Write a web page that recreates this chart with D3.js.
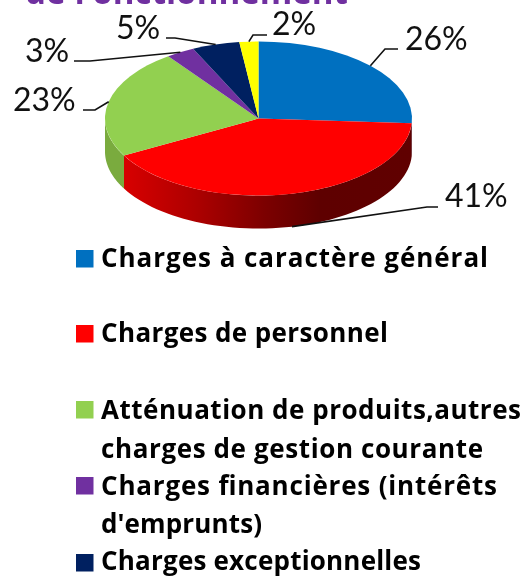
<!DOCTYPE html>
<html lang="fr">
<head>
    <meta charset="UTF-8">
    <title>Charges de fonctionnement</title>
    <style>
        body { margin: 0; background: #fff; overflow: hidden; }
        svg { display: block; filter: blur(0.4px); }
        .legend text { font-family: "Open Sans", sans-serif; font-weight: 700; font-size: 26px; fill: #000; }
        .pct { font-family: Lato, sans-serif; font-size: 32px; fill: #111; }
        .title { font-family: "Open Sans", sans-serif; font-weight: 700; font-size: 36px; fill: #7030a0; }
    </style>
</head>
<body>
    <svg id="chart" width="526" height="577"></svg>
    <script src="https://d3js.org/d3.v7.min.js"></script>
    <script>
        const titleText = "de Fonctionnement";
        // the sixth (yellow) slice has no legend entry in view, the picture cuts off below the fifth
        const categories = [
            ["Charges à caractère général"],
            ["Charges de personnel"],
            ["Atténuation de produits,autres", "charges de gestion courante"],
            ["Charges financières (intérêts", "d'emprunts)"],
            ["Charges exceptionnelles"]
        ];
        const values = [26, 41, 23, 3, 5, 2];
        const colors = ["#0070c0", "#ff0000", "#92d050", "#7030a0", "#002060", "#ffff00"];
        const wallColors = ["#00508a", "url(#redWall)", "#7aab3e", "#50207a", "#001540", "#b0b000"];

        // layout
        const cx = 258.5, cy = 118.5, rx = 153.5, ry = 77, depth = 33;
        const labelPos = [[405, 50], [445, 207], [13, 111], [25, 62], [116, 39], [272, 35]];
        const elbows = [[[385, 49], [398, 49]], [[427, 207], [438, 207]], [[95, 110], [83, 110]],
                        [[90, 61], [74, 61]], [[175, 38], [166, 38]], [[253, 35], [267, 35]]];
        const legendY = [250, 325, 401, 477, 554];
        const lineBase = [[267], [342], [419, 458], [495, 533], [570]];
        const lineWidth = [[387], [287], [420, 382], [396, 161], [320]];

        const svg = d3.select("#chart");

        const defs = svg.append("defs");
        const grad = defs.append("linearGradient").attr("id", "redWall")
            .attr("gradientUnits", "userSpaceOnUse")
            .attr("x1", cx - rx).attr("x2", cx + rx).attr("y1", 0).attr("y2", 0);
        [[0, "#e00000"], [0.06, "#d80000"], [0.3, "#ac0000"], [0.52, "#7c0000"], [0.7, "#5e0000"], [1, "#600000"]]
            .forEach(s => grad.append("stop").attr("offset", s[0]).attr("stop-color", s[1]));

        svg.append("text").attr("class", "title")
            .attr("x", 25).attr("y", 4)
            .attr("textLength", 323).attr("lengthAdjust", "spacingAndGlyphs")
            .text(titleText);

        const slices = d3.pie().sort(null).value(d => d)(values);
        const ptX = a => cx + rx * Math.sin(a);
        const ptY = a => cy - ry * Math.cos(a);

        // side walls, only the front half of the disc shows
        const wall = d3.area().x(ptX).y0(ptY).y1(a => ptY(a) + depth);
        svg.append("g").selectAll("path")
            .data(slices)
            .join("path")
            .attr("fill", (d, i) => wallColors[i])
            .attr("d", d => {
                const a0 = Math.max(d.startAngle, Math.PI / 2);
                const a1 = Math.min(d.endAngle, Math.PI * 1.5);
                if (a1 <= a0) return null;
                return wall(d3.range(0, 61).map(k => a0 + (a1 - a0) * k / 60));
            });

        // top of the disc, a circle squashed into an ellipse
        const arc = d3.arc().innerRadius(0).outerRadius(rx);
        svg.append("g")
            .attr("transform", `translate(${cx},${cy}) scale(1,${ry / rx})`)
            .selectAll("path")
            .data(slices)
            .join("path")
            .attr("fill", (d, i) => colors[i])
            .attr("d", arc);

        // leader lines go from the middle of each slice's rim to the label
        const line = d3.line();
        svg.append("g").selectAll("path")
            .data(slices)
            .join("path")
            .attr("fill", "none")
            .attr("stroke", "#111")
            .attr("stroke-width", 1.6)
            .attr("d", (d, i) => {
                const mid = (d.startAngle + d.endAngle) / 2;
                const front = mid > Math.PI / 2 && mid < Math.PI * 1.5;
                return line([[ptX(mid), ptY(mid) + (front ? depth : 0)], ...elbows[i]]);
            });

        svg.append("g").selectAll("text")
            .data(values)
            .join("text")
            .attr("class", "pct")
            .attr("x", (d, i) => labelPos[i][0])
            .attr("y", (d, i) => labelPos[i][1])
            .text(d => d + "%");

        const legend = svg.append("g").attr("class", "legend");
        legendY.forEach((y, i) => {
            legend.append("rect")
                .attr("x", 76).attr("y", y).attr("width", 17.5).attr("height", 17.5)
                .attr("fill", colors[i]);
            categories[i].forEach((t, j) => {
                legend.append("text")
                    .attr("x", 101).attr("y", lineBase[i][j])
                    .attr("textLength", lineWidth[i][j])
                    .attr("lengthAdjust", "spacing")
                    .text(t);
            });
        });
    </script>
</body>
</html>
